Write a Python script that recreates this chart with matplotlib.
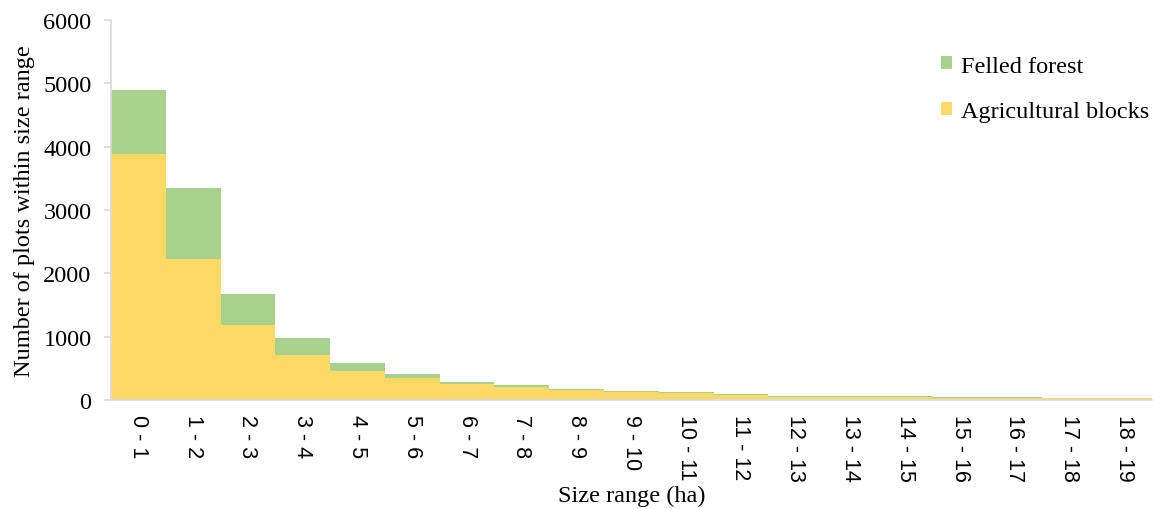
import matplotlib.pyplot as plt
import numpy as np

plt.rcParams['font.family'] = ['Liberation Serif', 'DejaVu Serif']

ranges = ['0 - 1', '1 - 2', '2 - 3', '3 - 4', '4 - 5', '5 - 6', '6 - 7', '7 - 8',
          '8 - 9', '9 - 10', '10 - 11', '11 - 12', '12 - 13', '13 - 14',
          '14 - 15', '15 - 16', '16 - 17', '17 - 18', '18 - 19']
agricultural = [3880, 2230, 1185, 710, 460, 355, 258, 205, 153, 131, 106, 80,
                48, 45, 42, 38, 32, 30, 28]
felled = [1010, 1120, 485, 275, 120, 62, 31, 32, 15, 15, 14, 15,
          15, 13, 15, 12, 10, 6, 4]

green = '#A9D18E'
yellow = '#FFD966'
grid_grey = '#D9D9D9'

fig = plt.figure(figsize=(11.53, 5.10), dpi=100)
ax = fig.add_axes([0.0963, 0.2137, 0.9027, 0.7451])

x = np.arange(len(ranges))
b1 = ax.bar(x, agricultural, width=1.0, color=yellow, linewidth=0,
            label='Agricultural blocks')
b2 = ax.bar(x, felled, width=1.0, bottom=agricultural, color=green,
            linewidth=0, label='Felled forest')

ax.set_xlim(-0.5, len(ranges) - 0.5)
ax.set_ylim(0, 6000)
ax.set_yticks(np.arange(0, 6001, 1000))
ax.set_xticks(x)
ax.set_xticklabels(ranges, rotation=-90, family=['Liberation Sans', 'DejaVu Sans'],
                   fontsize=15.5)
ax.tick_params(axis='x', length=0, pad=10)
ax.tick_params(axis='y', length=5, width=1.2, color=grid_grey, pad=9,
               labelsize=17.5)

for s in ['top', 'right']:
    ax.spines[s].set_visible(False)
for s in ['left', 'bottom']:
    ax.spines[s].set_color(grid_grey)
    ax.spines[s].set_linewidth(1.2)

ax.set_ylabel('Number of plots within size range', fontsize=17.5, labelpad=6)
ax.set_xlabel('Size range (ha)', fontsize=17.5, labelpad=3)

ax.legend([b2, b1], ['Felled forest', 'Agricultural blocks'], frameon=False,
          fontsize=17.5, loc='upper left', bbox_to_anchor=(0.797, 0.932),
          bbox_transform=fig.transFigure, handlelength=0.45, handleheight=0.45,
          handletextpad=0.4, labelspacing=1.0)

fig.savefig('out.png', dpi=100)
